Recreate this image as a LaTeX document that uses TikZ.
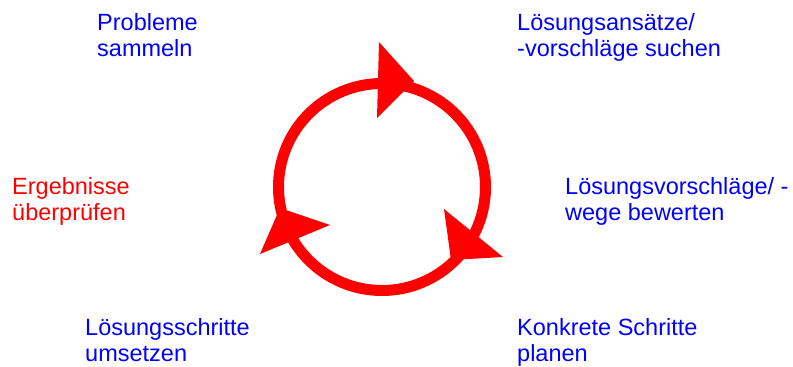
\documentclass[tikz,border=0pt]{standalone}
\usepackage{fontspec}
\setmainfont{Liberation Sans}
\definecolor{lblue}{RGB}{0,0,255}
\definecolor{lred}{RGB}{255,0,0}
\begin{document}
\begin{tikzpicture}[x=1pt,y=-1pt,
  lbl/.style={anchor=base west,inner sep=0pt,align=left,text=lblue,font=\fontsize{23.5}{26}\selectfont},
  ring/.style={draw=lred,line width=11pt},
  head/.style={fill=lred}]
\useasboundingbox (0,0) rectangle (793,367);
\draw[ring] (382,187) circle[radius=103.5];
\fill[head] (379,42) -- (414,81) -- (377,118) -- cycle;
\fill[head] (444,209) -- (503,257) -- (451,260) -- cycle;
\fill[head] (330,225) -- (260,254) -- (280,208) -- cycle;
\node[lbl] (p1) at (97,56) {Probleme\\sammeln};
\node[lbl] (p2) at (517,56) {Lösungsansätze/\\-vorschläge suchen};
\node[lbl] (p3) at (565,220) {Lösungsvorschläge/ -\\wege bewerten};
\node[lbl] (p4) at (517,361) {Konkrete Schritte\\planen};
\node[lbl] (p5) at (85,361) {Lösungsschritte\\umsetzen};
\node[lbl,text=lred] (p6) at (12,220) {Ergebnisse\\überprüfen};
\end{tikzpicture}
\end{document}
